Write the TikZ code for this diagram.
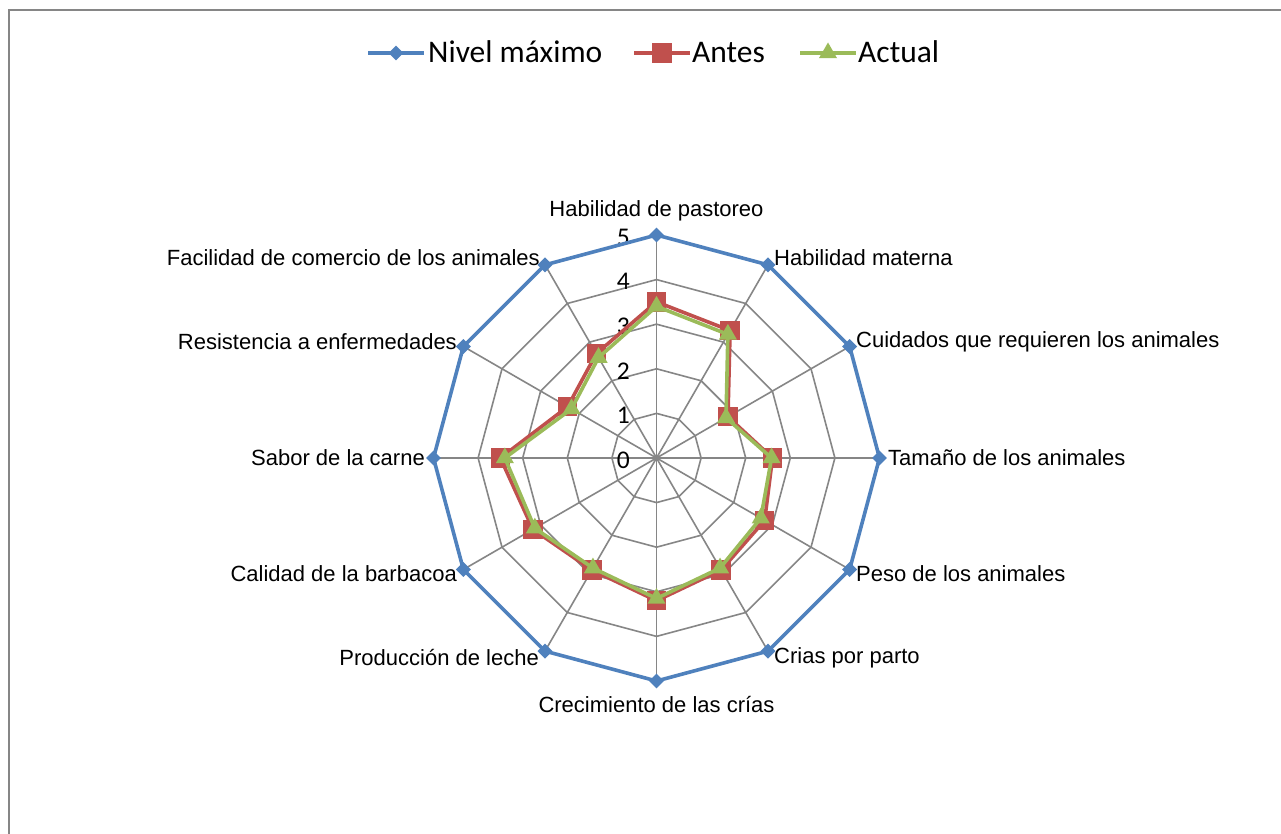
\documentclass[tikz,border=0pt]{standalone}
\usepackage{fontspec}
\setmainfont{Liberation Sans}
\newfontfamily\calibri{Carlito}
\usetikzlibrary{shapes.geometric,calc}
\definecolor{maxblue}{RGB}{79,129,189}
\definecolor{antesred}{RGB}{192,80,77}
\definecolor{actualgreen}{RGB}{155,187,89}
\definecolor{gridgray}{RGB}{134,134,134}
\tikzset{
  spoke/.style={draw=gridgray, line width=1.6pt},
  serie/.style={line width=3.6pt, line join=round},
  lbl/.style={inner sep=0pt, font=\fontsize{22}{26}\selectfont},
  ticklbl/.style={inner sep=0pt, anchor=east, font=\calibri\fontsize{25.5}{30}\selectfont},
  ley/.style={inner sep=0pt, anchor=base west, font=\calibri\fontsize{31.5}{36}\selectfont},
  mkmax/.style={diamond, fill=maxblue, inner sep=0pt, minimum size=15pt},
  mkantes/.style={rectangle, fill=antesred, inner sep=0pt, minimum size=19.5pt},
  mkactual/.style={regular polygon, regular polygon sides=3, fill=actualgreen, inner sep=0pt, minimum size=21pt},
}

\begin{document}
\begin{tikzpicture}[x=1pt,y=1pt]
\useasboundingbox (0,0) rectangle (1281,834);
\fill[white] (0,0) rectangle (1281,834);
% marco
\draw[gridgray, line width=1.6pt] (9,0) -- (9,824) -- (1281,824);
\coordinate (c) at (656.5,376);

% rejilla
\foreach \k in {1,...,5}{
  \draw[spoke] ($(c)+(90:{\k*44.6})$) \foreach \i in {1,...,11}{ -- ($(c)+({90-30*\i}:{\k*44.6})$)} -- cycle;
}
\foreach \i in {0,...,11}
  \draw[spoke] (c) -- ($(c)+({90-30*\i}:223)$);

% escala
\foreach \k in {0,...,5}
  \node[ticklbl] (t\k) at (630,{374+\k*44.6}) {\k};

% categorias
\node[lbl] (hp) at (656.5,623) {Habilidad de pastoreo};
\node[lbl, anchor=west] (hm) at (774,576) {Habilidad materna};
\node[lbl, anchor=west] (cu) at (856,492) {Cuidados que requieren los animales};
\node[lbl, anchor=west] (ta) at (888,376) {Tamaño de los animales};
\node[lbl, anchor=west] (pe) at (856,260) {Peso de los animales};
\node[lbl, anchor=west] (cp) at (774,176) {Crias por parto};
\node[lbl] (cc) at (656.5,129) {Crecimiento de las crías};
\node[lbl, anchor=east] (pl) at (539,176) {Producción de leche};
\node[lbl, anchor=east] (cb) at (457,260) {Calidad de la barbacoa};
\node[lbl, anchor=east] (sc) at (425,376) {Sabor de la carne};
\node[lbl, anchor=east] (re) at (457,492) {Resistencia a enfermedades};
\node[lbl, anchor=east] (fc) at (540,576) {Facilidad de comercio de los animales};

% Nivel maximo
\foreach \v [count=\i from 0] in {5,5,5,5,5,5,5,5,5,5,5,5}
  \coordinate (nm\i) at ($(c)+({90-30*\i}:{\v*44.6})$);
\draw[serie, maxblue] (nm0) \foreach \i in {1,...,11}{ -- (nm\i)} -- cycle;
\foreach \i in {0,...,11}
  \node[mkmax] (dnm\i) at (nm\i) {};

% Antes
\foreach \v [count=\i from 0] in {3.5,3.3,1.85,2.6,2.8,2.9,3.2,2.9,3.2,3.5,2.3,2.7}
  \coordinate (an\i) at ($(c)+({90-30*\i}:{\v*44.6})$);
\draw[serie, antesred] (an0) \foreach \i in {1,...,11}{ -- (an\i)} -- cycle;
\foreach \i in {0,...,11}
  \node[mkantes] (dan\i) at (an\i) {};

% Actual
\foreach \v [count=\i from 0] in {3.4,3.2,1.8,2.58,2.7,2.85,3.15,2.85,3.15,3.4,2.2,2.6}
  \coordinate (ac\i) at ($(c)+({90-30*\i}:{\v*44.6})$);
\draw[serie, actualgreen] (ac0) \foreach \i in {1,...,11}{ -- (ac\i)} -- cycle;
\foreach \i in {0,...,11}
  \node[mkactual] (dac\i) at (ac\i) {};

% leyenda
\coordinate (lgmax) at (396,781);
\draw[serie, maxblue] ($(lgmax)+(-28,0)$) -- ($(lgmax)+(28,0)$);
\node[mkmax] (lgmaxmk) at (lgmax) {};
\node[ley] (lgmaxtxt) at (428,771) {Nivel máximo};
\coordinate (lgant) at (662,781);
\draw[serie, antesred] ($(lgant)+(-28,0)$) -- ($(lgant)+(28,0)$);
\node[mkantes] (lgantmk) at (lgant) {};
\node[ley] (lganttxt) at (692,771) {Antes};
\coordinate (lgact) at (828,781);
\draw[serie, actualgreen] ($(lgact)+(-28,0)$) -- ($(lgact)+(28,0)$);
\node[mkactual] (lgactmk) at (lgact) {};
\node[ley] (lgacttxt) at (858,771) {Actual};
\end{tikzpicture}
\end{document}
